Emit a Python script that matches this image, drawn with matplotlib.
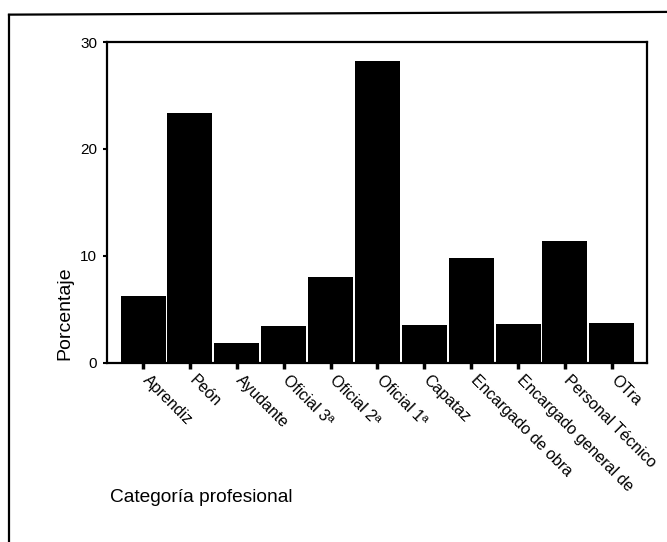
import matplotlib
matplotlib.use("Agg")
import matplotlib.pyplot as plt
from matplotlib.lines import Line2D
from matplotlib.transforms import ScaledTranslation

categories = ["Aprendiz", "Peón", "Ayudante", "Oficial 3ª", "Oficial 2ª", "Oficial 1ª",
              "Capataz", "Encargado de obra", "Encargado general de",
              "Personal Técnico", "OTra"]
values = [6.3, 23.4, 1.9, 3.45, 8.0, 28.2, 3.55, 9.8, 3.6, 11.4, 3.7]
yticks = [0, 10, 20, 30]

plt.rcParams['font.family'] = ['Liberation Sans', 'DejaVu Sans']

fig = plt.figure(figsize=(6.67, 5.42), dpi=100)
ax = fig.add_axes([0.1604, 0.3303, 0.8096, 0.5922])

x = list(range(len(categories)))
ax.bar(x, values, width=0.96, color='black', edgecolor='none')

ax.set_xlim(-0.77, 10.75)
ax.set_ylim(0, 30)
ax.set_yticks(yticks)
ax.set_yticklabels([str(v) for v in yticks], fontsize=11)
ax.set_xticks(x)
ax.set_xticklabels(categories, rotation=-45, ha='left', va='top',
                   rotation_mode='anchor', fontsize=11.5)
ax.tick_params(axis='x', length=4, width=2.5, direction='out', pad=4)
ax.tick_params(axis='y', length=3, width=1.5, direction='out', pad=4)
offset = ScaledTranslation(7 / 100, 2 / 100, fig.dpi_scale_trans)
for lab in ax.get_xticklabels():
    lab.set_transform(lab.get_transform() + offset)
for s in ax.spines.values():
    s.set_linewidth(1.6)
    s.set_color('black')

fig.text(0.0975, 0.4225, "Porcentaje", rotation=90, ha='center', va='center', fontsize=14)
fig.text(0.165, 0.083, "Categoría profesional", ha='left', va='center', fontsize=13.8)

# outer frame (top and left)
fig.add_artist(Line2D([0.0135, 0.0135], [0.0, 0.973], transform=fig.transFigure,
                      color='black', linewidth=1.6))
fig.add_artist(Line2D([0.0135, 1.0], [0.973, 0.978], transform=fig.transFigure,
                      color='black', linewidth=1.6))

fig.savefig("out.png", dpi=100)
